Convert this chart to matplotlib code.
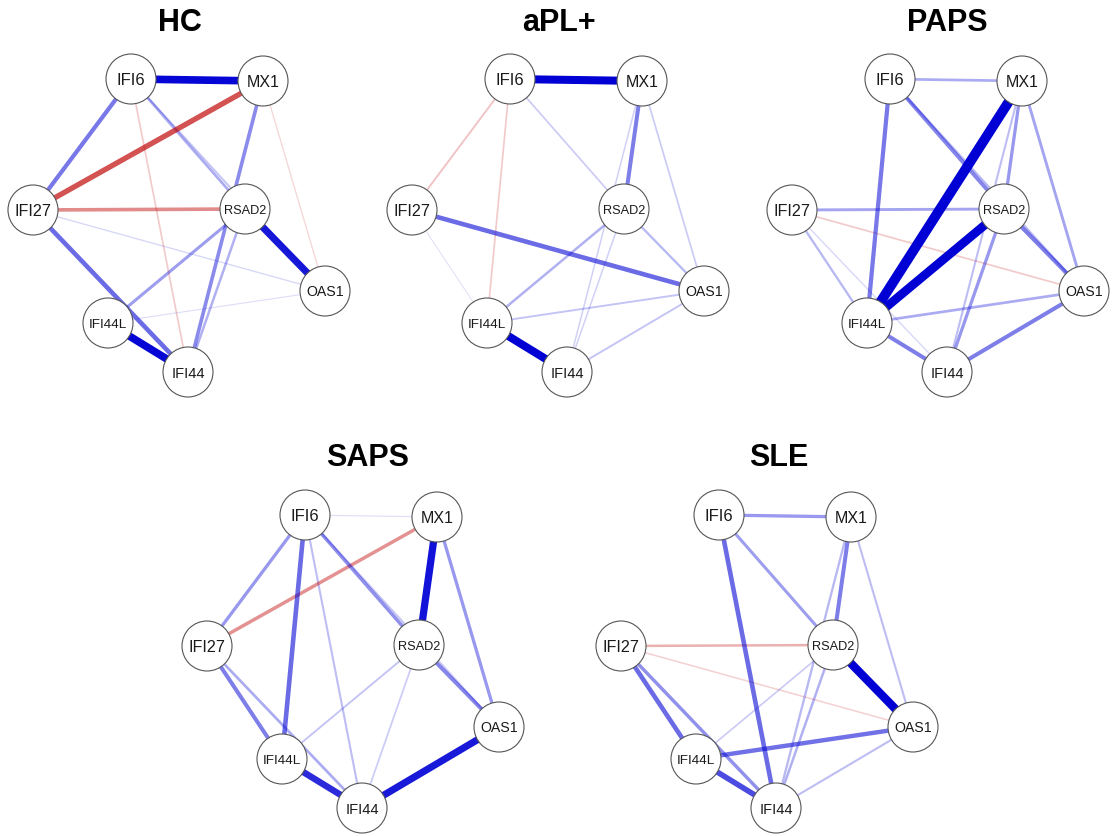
import numpy as np
import matplotlib
matplotlib.use("Agg")
import matplotlib.pyplot as plt
from matplotlib.patches import Circle
from itertools import combinations

# Genes (nodes) and study groups (panels)
genes = ["IFI6", "MX1", "IFI27", "RSAD2", "OAS1", "IFI44L", "IFI44"]
groups = ["HC", "aPL+", "PAPS", "SAPS", "SLE"]

# Every gene pair, in the order used by the weight lists below
pairs = list(combinations(range(len(genes)), 2))
# IFI6-MX1, IFI6-IFI27, IFI6-RSAD2, IFI6-OAS1, IFI6-IFI44L, IFI6-IFI44,
# MX1-IFI27, MX1-RSAD2, MX1-OAS1, MX1-IFI44L, MX1-IFI44,
# IFI27-RSAD2, IFI27-OAS1, IFI27-IFI44L, IFI27-IFI44,
# RSAD2-OAS1, RSAD2-IFI44L, RSAD2-IFI44, OAS1-IFI44L, OAS1-IFI44, IFI44L-IFI44

# Partial correlations (edge weights) per group
w_hc = [0.36, 0.18, 0.10, 0.06, 0.00, -0.05,
        -0.24, 0.00, -0.03, 0.00, 0.15,
        -0.15, 0.03, 0.00, 0.20,
        0.33, 0.12, 0.09, 0.02, 0.00, 0.36]
w_apl = [0.38, -0.06, 0.05, 0.00, -0.05, 0.00,
         0.00, 0.17, 0.05, 0.00, 0.04,
         0.00, 0.20, 0.015, 0.00,
         0.08, 0.09, 0.04, 0.06, 0.06, 0.38]
w_paps = [0.10, 0.00, 0.16, 0.08, 0.18, 0.00,
          0.00, 0.13, 0.11, 0.48, 0.07,
          0.11, -0.05, 0.08, 0.03,
          0.17, 0.42, 0.13, 0.10, 0.17, 0.17]
w_saps = [0.02, 0.13, 0.14, 0.06, 0.20, 0.07,
          -0.14, 0.34, 0.13, 0.00, 0.00,
          0.00, 0.00, 0.17, 0.10,
          0.16, 0.06, 0.05, 0.00, 0.33, 0.30]
w_sle = [0.13, 0.00, 0.12, 0.00, 0.00, 0.20,
         0.00, 0.17, 0.07, 0.00, 0.08,
         -0.09, -0.04, 0.20, 0.14,
         0.40, 0.05, 0.09, 0.19, 0.07, 0.25]
weights = {"HC": w_hc, "aPL+": w_apl, "PAPS": w_paps, "SAPS": w_saps, "SLE": w_sle}

# ---- layout and style ----
W, H, DPI = 1115, 836, 100
layout = {"IFI6": (131, 79), "MX1": (263, 81), "IFI27": (33, 210),
          "RSAD2": (245, 209), "OAS1": (325, 291), "IFI44L": (108, 323),
          "IFI44": (188, 372)}
panel_origin = {"HC": (0, 0), "aPL+": (379, 0), "PAPS": (759, 0),
                "SAPS": (174, 436), "SLE": (588, 436)}
title_xy = {"HC": (180, 23), "aPL+": (559, 23), "PAPS": (947, 23),
            "SAPS": (368, 458), "SLE": (779, 458)}
label_size = {"IFI6": 12, "MX1": 11.5, "IFI27": 11.6, "RSAD2": 9.2,
              "OAS1": 10.2, "IFI44L": 9.7, "IFI44": 10.5}
NODE_R = 25
W_MAX = 0.5
POS_COL = "#0000D5"
NEG_COL = "#BF0000"
PT_PER_PX = 72 / DPI

fig = plt.figure(figsize=(W / DPI, H / DPI), dpi=DPI)
ax = fig.add_axes([0, 0, 1, 1])
ax.set_xlim(0, W)
ax.set_ylim(H, 0)
ax.set_aspect("equal")
ax.axis("off")

for g in groups:
    ox, oy = panel_origin[g]
    pos = {n: (layout[n][0] + ox, layout[n][1] + oy) for n in genes}
    w = np.asarray(weights[g], dtype=float)
    for k in np.argsort(np.abs(w)):
        if w[k] == 0:
            continue
        a, b = genes[pairs[k][0]], genes[pairs[k][1]]
        r = min(abs(w[k]) / W_MAX, 1.0)
        ax.plot([pos[a][0], pos[b][0]], [pos[a][1], pos[b][1]],
                color=POS_COL if w[k] > 0 else NEG_COL,
                alpha=min(1.0, 0.08 + 1.25 * r),
                lw=(0.8 + 9.5 * r) * PT_PER_PX,
                solid_capstyle="butt", zorder=1 + r)
    for n in genes:
        ax.add_patch(Circle(pos[n], NODE_R, facecolor="white",
                            edgecolor="#555555", lw=0.8, zorder=5))
        ax.text(pos[n][0], pos[n][1], n, ha="center", va="center_baseline",
                fontsize=label_size[n], color="#1a1a1a", zorder=6,
                family=["Liberation Sans", "DejaVu Sans"])
    tx, ty = title_xy[g]
    ax.text(tx, ty, g, ha="center", va="center", fontsize=22,
            fontweight="bold", color="black",
            family=["Liberation Sans", "DejaVu Sans"])

fig.savefig("out.png", dpi=DPI, facecolor="white")
